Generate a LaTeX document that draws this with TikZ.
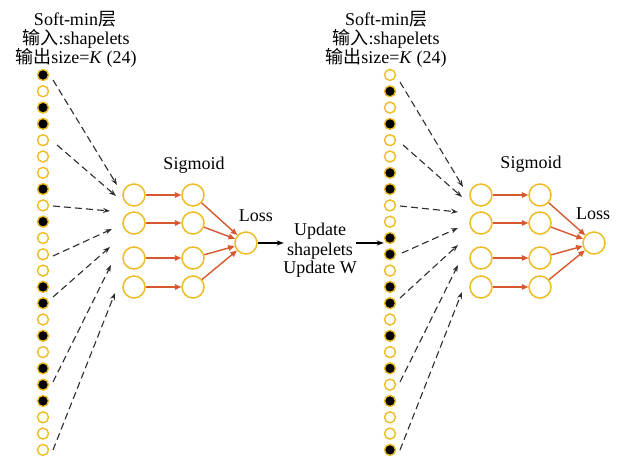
\documentclass[tikz,border=0pt]{standalone}
\usepackage{fontspec}
\setmainfont{Liberation Serif}
\newfontfamily\cjk{Noto Sans CJK SC}
\usetikzlibrary{arrows.meta}
\definecolor{gold}{RGB}{238,188,36}
\definecolor{redc}{RGB}{214,88,44}
\definecolor{dashc}{RGB}{45,45,50}
\tikzset{
  dotF/.style={circle,draw=gold,fill=black,minimum size=11pt,inner sep=0pt,line width=1.4pt},
  dotE/.style={circle,draw=gold,fill=white,minimum size=11pt,inner sep=0pt,line width=1.4pt},
  neuron/.style={circle,draw=gold,fill=white,minimum size=22pt,inner sep=0pt,line width=1.5pt},
  lbl/.style={font=\fontsize{18}{19}\selectfont,inner sep=0pt,anchor=base},
  redarr/.style={draw=redc,line width=1.4pt,-{Triangle[length=6.5pt,width=5.5pt]}},
  dasharr/.style={draw=dashc,line width=1.1pt,dash pattern=on 7pt off 4pt,-{Stealth[length=7pt,width=5pt]}},
  blackarr/.style={draw=black,line width=1.2pt,-{Stealth[length=7pt,width=5pt]}}
}
\begin{document}
\begin{tikzpicture}[x=1pt,y=-1pt]
\fill[white] (0,0) rectangle (619,457);
\useasboundingbox (0,0) rectangle (619,457);

% titles
\node[lbl] (tl1) at (75,26) {Soft-min{\cjk 层}};
\node[lbl] (tl2) at (76,45) {{\cjk 输入}:shapelets};
\node[lbl] (tl3) at (76,63.5) {{\cjk 输出}size=\textit{K} (24)};
\node[lbl] (tr1) at (386,26) {Soft-min{\cjk 层}};
\node[lbl] (tr2) at (386,45) {{\cjk 输入}:shapelets};
\node[lbl] (tr3) at (386,63.5) {{\cjk 输出}size=\textit{K} (24)};

% dot columns
\foreach \t [count=\i] in {F,E,F,F,E,E,E,F,E,F,E,E,E,F,F,E,F,E,F,F,F,E,E,E}
  \node[dot\t] (L\i) at (43,{75+(\i-1)*16.3}) {};
\foreach \t [count=\i] in {E,F,E,F,E,E,F,F,E,E,F,F,E,F,F,E,F,E,F,E,F,E,E,F}
  \node[dot\t] (R\i) at (390,{75+(\i-1)*16.3}) {};

% left network
\foreach \y [count=\i] in {195,223,258,287} {
  \node[neuron] (La\i) at (134,\y) {};
  \node[neuron] (Lb\i) at (193,\y) {};
}
\node[neuron] (Lloss) at (246,243) {};
\node[lbl] (Lsig) at (194,169.5) {Sigmoid};
\node[lbl] (Llosst) at (256,221.5) {Loss};

% right network
\foreach \y [count=\i] in {195,223,258,287} {
  \node[neuron] (Ra\i) at (481,\y) {};
  \node[neuron] (Rb\i) at (540,\y) {};
}
\node[neuron] (Rloss) at (594,243) {};
\node[lbl] (Rsig) at (531,168.5) {Sigmoid};
\node[lbl] (Rlosst) at (593,220) {Loss};

% red arrows
\foreach \i in {1,2,3,4} {
  \draw[redarr] (La\i) -- (Lb\i);
  \draw[redarr] (Lb\i) -- (Lloss);
  \draw[redarr] (Ra\i) -- (Rb\i);
  \draw[redarr] (Rb\i) -- (Rloss);
}

% dashed arrows left
\coordinate (ls1) at (53,80);  \coordinate (lt1) at (117,185);
\coordinate (ls2) at (57,145); \coordinate (lt2) at (116,196);
\coordinate (ls3) at (53,206); \coordinate (lt3) at (110,211);
\coordinate (ls4) at (53,256); \coordinate (lt4) at (112,229);
\coordinate (ls5) at (53,297); \coordinate (lt5) at (110,247);
\coordinate (ls6) at (53,382); \coordinate (lt6) at (111,265);
\coordinate (ls7) at (53,450); \coordinate (lt7) at (115,293);
% dashed arrows right
\coordinate (rs1) at (400,82);  \coordinate (rt1) at (463,187);
\coordinate (rs2) at (403,145); \coordinate (rt2) at (462,197);
\coordinate (rs3) at (400,206); \coordinate (rt3) at (458,212);
\coordinate (rs4) at (402,253); \coordinate (rt4) at (458,228);
\coordinate (rs5) at (400,298); \coordinate (rt5) at (458,245);
\coordinate (rs6) at (400,382); \coordinate (rt6) at (458,265);
\coordinate (rs7) at (400,450); \coordinate (rt7) at (462,292);
\foreach \i in {1,...,7} {
  \draw[dasharr] (ls\i) -- (lt\i);
  \draw[dasharr] (rs\i) -- (rt\i);
}

% update text
\node[lbl,inner sep=3pt] (up1) at (320,236) {Update};
\node[lbl,inner sep=3pt] (up2) at (320,256) {shapelets};
\node[lbl,inner sep=3pt] (up3) at (320,274) {Update W};
\draw[blackarr] (Lloss.east) -- (Lloss.east -| up2.west);
\draw[blackarr] (up2.east |- Lloss.east) -- (R11.west |- Lloss.east);
\end{tikzpicture}
\end{document}
